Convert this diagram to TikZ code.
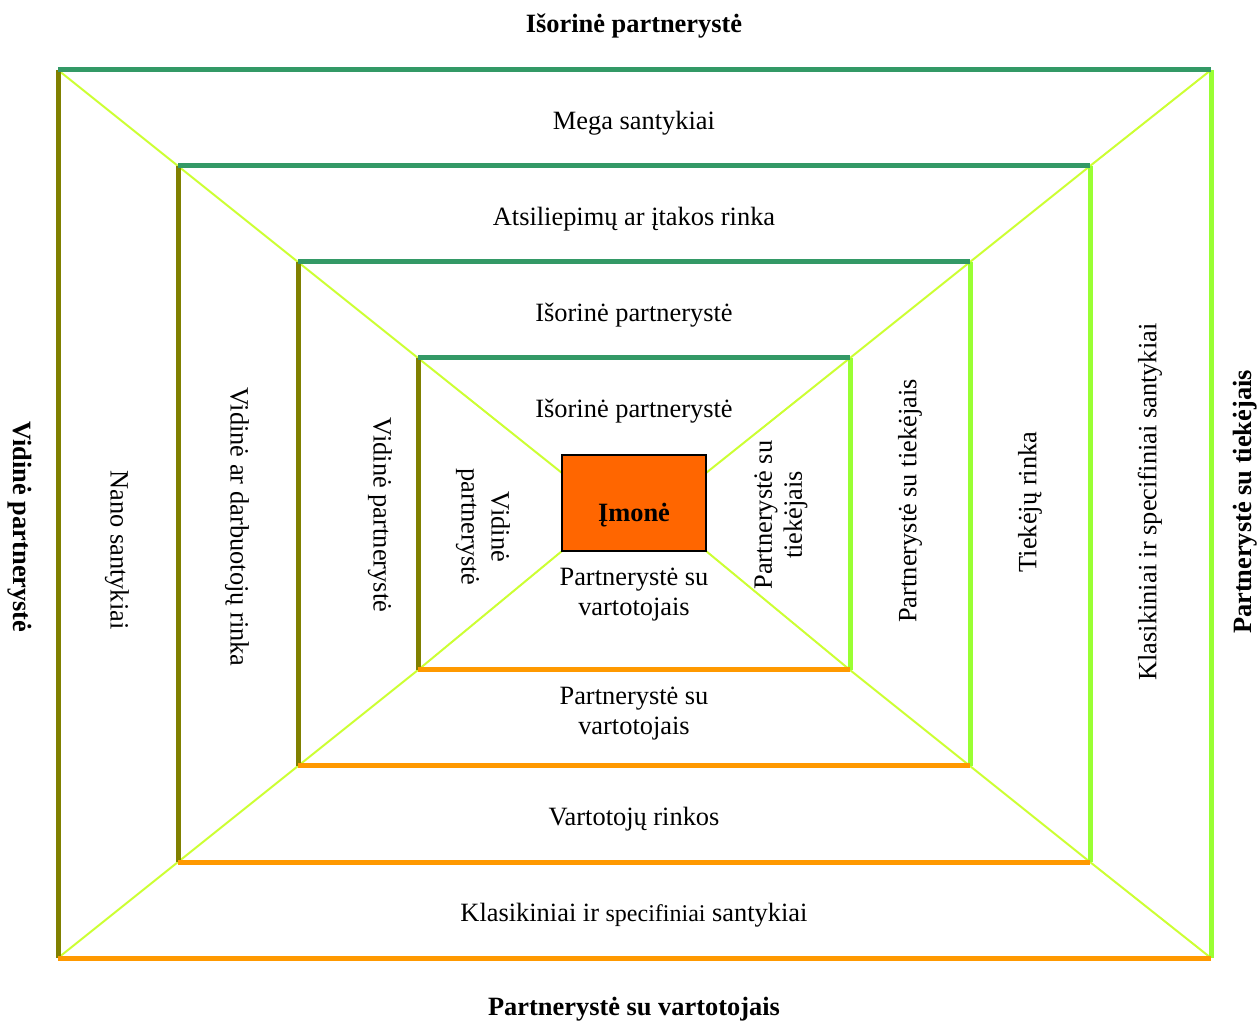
\documentclass[tikz,border=0pt]{standalone}
\usepackage{fontspec}
\setmainfont{Liberation Serif}
\definecolor{topc}{HTML}{339966}
\definecolor{leftc}{HTML}{808000}
\definecolor{rightc}{HTML}{99FF33}
\definecolor{botc}{HTML}{FF9900}
\definecolor{diagc}{HTML}{CCFF33}
\definecolor{boxc}{HTML}{FF6600}
\begin{document}
\begin{tikzpicture}[x=0.5pt,y=-0.5pt,
  lbl/.style={font=\fontsize{13.2}{15}\selectfont, align=center, inner sep=0pt},
  blbl/.style={font=\fontsize{13.2}{15}\selectfont\bfseries, align=center, inner sep=0pt},
  topline/.style={draw=topc, line width=2.5pt},
  leftline/.style={draw=leftc, line width=2.5pt},
  rightline/.style={draw=rightc, line width=2.5pt},
  botline/.style={draw=botc, line width=2.5pt},
  diagline/.style={draw=diagc, line width=1pt},
  corebox/.style={draw=black, line width=1pt, fill=boxc, minimum width=72pt, minimum height=48pt, inner sep=0pt, font=\fontsize{13.2}{15}\selectfont\bfseries}]
\useasboundingbox (0,0) rectangle (1260,1021);
% frame corners
\foreach \n/\xa/\ya/\xb/\yb in {a/58/70/1211/958, b/178/166/1090/862, c/298/262/970/766, d/418/358/850/670}{
  \coordinate (\n-tl) at (\xa,\ya);
  \coordinate (\n-tr) at (\xb,\ya);
  \coordinate (\n-bl) at (\xa,\yb);
  \coordinate (\n-br) at (\xb,\yb);
}
\coordinate (e-tl) at (562,473);
\coordinate (e-tr) at (706,473);
\coordinate (e-bl) at (562,551);
\coordinate (e-br) at (706,551);
% diagonals
\draw[diagline] (a-tl) -- (b-tl) -- (c-tl) -- (d-tl) -- (e-tl);
\draw[diagline] (a-tr) -- (b-tr) -- (c-tr) -- (d-tr) -- (e-tr);
\draw[diagline] (a-bl) -- (b-bl) -- (c-bl) -- (d-bl) -- (e-bl);
\draw[diagline] (a-br) -- (b-br) -- (c-br) -- (d-br) -- (e-br);
% frames
\foreach \n in {a,b,c,d}{
  \draw[leftline] (\n-tl) -- (\n-bl);
  \draw[rightline] (\n-tr) -- (\n-br);
  \draw[topline] (\n-tl) -- (\n-tr);
  \draw[botline] (\n-bl) -- (\n-br);
}
% core
\node[corebox] (core) at (634,503) {};
\node[blbl] (coretxt) at (634,515) {Įmonė};
% top labels
\node[blbl] (ttitle) at (634,26) {Išorinė partnerystė};
\node[lbl] (t1) at (634,123) {Mega santykiai};
\node[lbl] (t2) at (634,219) {Atsiliepimų ar įtakos rinka};
\node[lbl] (t3) at (634,315) {Išorinė partnerystė};
\node[lbl] (t4) at (634,411) {Išorinė partnerystė};
% bottom labels
\node[lbl] (b4) at (634,595) {Partnerystė su\\vartotojais};
\node[lbl] (b3) at (634,714) {Partnerystė su\\vartotojais};
\node[lbl] (b2) at (634,819) {Vartotojų rinkos};
\node[lbl] (b1) at (634,915) {Klasikiniai ir {\fontsize{12}{15}\selectfont specifiniai} santykiai};
\node[blbl] (btitle) at (634,1009) {Partnerystė su vartotojais};
% left labels
\node[blbl, rotate=-90] (ltitle) at (20,527) {Vidinė partnerystė};
\node[lbl, rotate=-90] (l1) at (117,550) {Nano santykiai};
\node[lbl, rotate=-90] (l2) at (237,527) {Vidinė ar darbuotojų rinka};
\node[lbl, rotate=-90] (l3) at (380,515) {Vidinė partnerystė};
\node[lbl, rotate=-90] (l4) at (483,527) {Vidinė\\partnerystė};
% right labels
\node[lbl, rotate=90] (r4) at (781,515) {Partnerystė su\\tiekėjais};
\node[lbl, rotate=90] (r3) at (910,501) {Partnerystė su tiekėjais};
\node[lbl, rotate=90] (r2) at (1030,502) {Tiekėjų rinka};
\node[lbl, rotate=90] (r1) at (1150,502) {Klasikiniai ir specifiniai santykiai};
\node[blbl, rotate=90] (rtitle) at (1245,502) {Partnerystė su tiekėjais};
\end{tikzpicture}
\end{document}
